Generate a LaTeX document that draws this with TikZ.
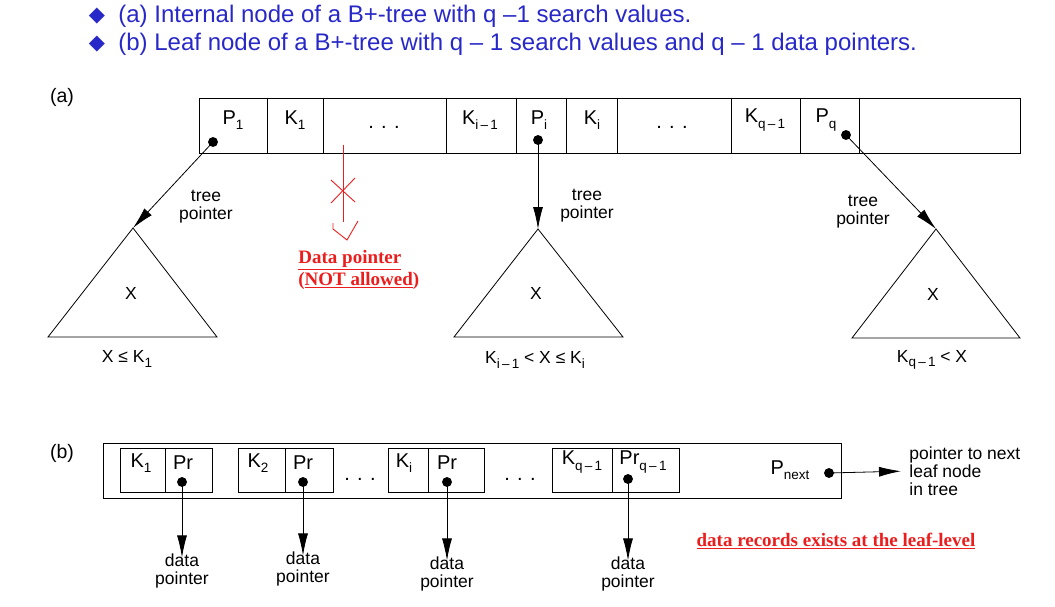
\documentclass[tikz,border=0pt]{standalone}
\usepackage{fontspec}
\setmainfont{Liberation Serif}
\setsansfont{Liberation Sans}
\newfontfamily\symfont{DejaVu Sans}
\usetikzlibrary{arrows.meta}
\definecolor{hdblue}{RGB}{40,40,200}
\definecolor{warnred}{RGB}{235,30,30}
\newcommand{\subx}[1]{\raisebox{-0.5ex}{\fontsize{13.5}{14}\selectfont#1}}
\tikzset{
  every node/.style={font=\sffamily\fontsize{17.5}{18}\selectfont, inner sep=0pt},
  cell/.style={font=\sffamily\fontsize{20}{22}\selectfont},
  dot/.style={circle, fill=black, draw=black, minimum size=9pt},
  ptr/.style={-{Latex[length=22pt, width=10pt]}},
  hdr/.style={text=hdblue, anchor=west, font=\sffamily\fontsize{24}{24}\selectfont},
  redline/.style={draw=warnred, line width=0.9pt},
  redtxt/.style={text=warnred, font=\rmfamily\bfseries\fontsize{19}{22}\selectfont}
}

\begin{document}
\begin{tikzpicture}[line width=0.8pt]
\begin{scope}[x=1pt, y=-1pt]
\useasboundingbox (0,0) rectangle (1055,607);
% Header
    \node[text=hdblue, font=\symfont\fontsize{21}{22}\selectfont] (bulA) at (97,16) {◆};
    \node[hdr] (hdA) at (118,16) {(a) Internal node of a B+-tree with q –1 search values.};
    \node[text=hdblue, font=\symfont\fontsize{21}{22}\selectfont] (bulB) at (97,44) {◆};
    \node[hdr] (hdB) at (118,44) {(b) Leaf node of a B+-tree with q – 1 search values and q – 1 data pointers.};
% Part labels
    \node[font=\sffamily\fontsize{19.5}{20}\selectfont] (partA) at (62,97) {(a)};
    \node[font=\sffamily\fontsize{19.5}{20}\selectfont] (partB) at (62,453) {(b)};
% Internal node
    \draw (199,98) rectangle (1020,153);
    \draw (267,98) -- (267,153);
    \draw (323,98) -- (323,153);
    \draw (446,98) -- (446,153);
    \draw (516,98) -- (516,153);
    \draw (566,98) -- (566,153);
    \draw (617,98) -- (617,153);
    \draw (731,98) -- (731,153);
    \draw (800,98) -- (800,153);
    \draw (859,98) -- (859,153);
    \node[cell] (lP1) at (233,120) {P\subx{1}};
    \node[cell] (lK1) at (295,120) {K\subx{1}};
    \node[cell] (dotsA) at (384,127) {. . .};
    \node[cell] (lKi1) at (480,120) {K\subx{i\,–\,1}};
    \node[cell] (lPi) at (539,120) {P\subx{i}};
    \node[cell] (lKi) at (592,120) {K\subx{i}};
    \node[cell] (dotsB) at (672,127) {. . .};
    \node[cell] (lKq1) at (765,120) {K\subx{q\,–\,1}};
    \node[cell] (lPq) at (826,120) {P\subx{q}};
% Tree pointers
    \node[dot] (d1) at (213,142) {};
    \node[dot] (di) at (538,140) {};
    \node[dot] (dq) at (846,135) {};
    \coordinate (a1) at (133,228);
    \coordinate (ai) at (538,229);
    \coordinate (aq) at (936,229);
    \draw[ptr] (d1.center) -- (a1);
    \draw[ptr] (di.center) -- (ai);
    \draw[ptr] (dq.center) -- (aq);
    \node[align=center] (tp1) at (206,207) {tree\\pointer};
    \node[align=center] (tpi) at (587,206) {tree\\pointer};
    \node[align=center] (tpq) at (863,212) {tree\\pointer};
% Subtrees
    \draw (a1) -- (48,337) -- (217,337) -- cycle;
    \draw (ai) -- (454,337) -- (623,337) -- cycle;
    \draw (aq) -- (852,338) -- (1020,338) -- cycle;
    \node (x1) at (131,293) {X};
    \node (xi) at (536,293) {X};
    \node (xq) at (933,294) {X};
    \node (rng1) at (127,359) {X ≤ K\subx{1}};
    \node (rngi) at (535,360) {K\subx{i\,–\,1} < X ≤ K\subx{i}};
    \node (rngq) at (932,360) {K\subx{q\,–\,1} < X};
% Data pointer not allowed
    \coordinate (r0) at (343,145);
    \coordinate (r1) at (343,222);
    \draw[redline] (r0) -- (r1);
    \draw[redline] (331,180) -- (355,202);
    \draw[redline] (331,203) -- (355,178);
    \draw[redline] (333,223) -- (333,229) -- (347,240) -- (358,221);
    \node[redtxt, align=left, anchor=west] (nodp) at (298,270) {\underline{Data pointer}\\(\underline{NOT allowed})};
% Leaf node
    \draw (103,443) rectangle (841,498);
    \draw (120,448) rectangle (212,492);
    \draw (165,448) -- (165,492);
    \draw (238,448) rectangle (333,492);
    \draw (285,448) -- (285,492);
    \draw (388,448) rectangle (484,492);
    \draw (428,448) -- (428,492);
    \draw (552,448) rectangle (679,492);
    \draw (612,448) -- (612,492);
    \node[cell] (bK1) at (141,463) {K\subx{1}};
    \node[cell] (bPr1) at (183,463) {Pr};
    \node[cell] (bK2) at (258,463) {K\subx{2}};
    \node[cell] (bPr2) at (303,463) {Pr};
    \node[cell] (bKi) at (404,463) {K\subx{i}};
    \node[cell] (bPri) at (447,463) {Pr};
    \node[cell] (bKq) at (582,462) {K\subx{q\,–\,1}};
    \node[cell] (bPrq) at (643,462) {Pr\subx{q\,–\,1}};
    \node[cell] (dotsC) at (360,479) {. . .};
    \node[cell] (dotsD) at (520,479) {. . .};
    \node[cell] (bPn) at (790,470) {P\subx{next}};
% Data pointers
    \node[dot] (e1) at (182,482) {};
    \node[dot] (e2) at (303,482) {};
    \node[dot] (ei) at (447,482) {};
    \node[dot] (eq) at (628,479) {};
    \node[align=center] (dp1) at (182,571) {data\\pointer};
    \node[align=center] (dp2) at (303,569) {data\\pointer};
    \node[align=center] (dpi) at (447,574) {data\\pointer};
    \node[align=center] (dpq) at (628,574) {data\\pointer};
    \draw[ptr] (e1.center) -- ([yshift=-4pt]dp1.north);
    \draw[ptr] (e2.center) -- ([yshift=-4pt]dp2.north);
    \draw[ptr] (ei.center) -- ([yshift=-4pt]dpi.north);
    \draw[ptr] (eq.center) -- ([yshift=-4pt]dpq.north);
% Next leaf
    \node[dot] (en) at (829,473) {};
    \node[align=left, anchor=west] (nxt) at (909,471) {pointer to next\\leaf node\\in tree};
    \draw[ptr, shorten >=8pt] (en.center) -- (nxt.west);
    \node[redtxt] (leaf) at (836,541) {\underline{data records exists at the leaf-level}};
\end{scope}
\end{tikzpicture}
\end{document}
